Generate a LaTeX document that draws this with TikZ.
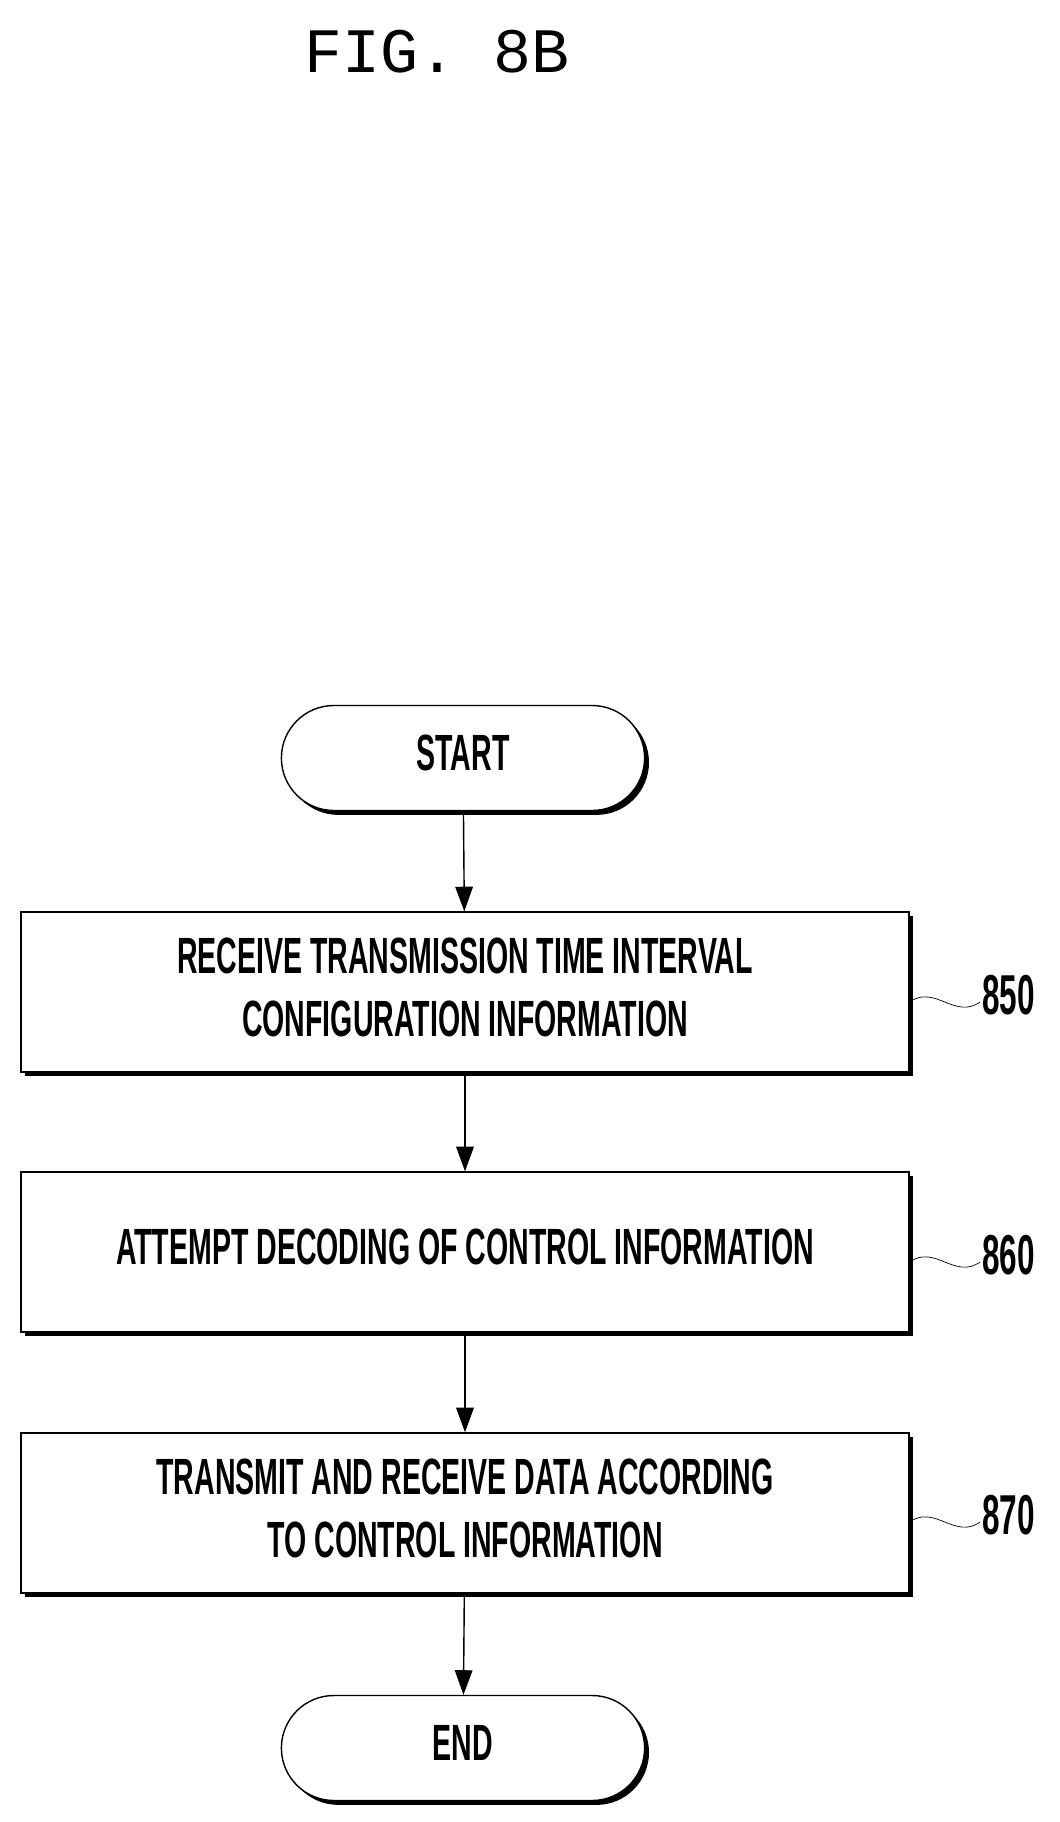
\documentclass[tikz,border=0pt]{standalone}
\usepackage{fontspec}
\setmainfont{Liberation Sans}
\newfontfamily\figfont{Liberation Mono}
\usetikzlibrary{positioning,shadows,arrows.meta,shapes.misc}
\newcommand{\narrowtext}[1]{\scalebox{0.56}[1]{\begin{tabular}{@{}c@{}}#1\end{tabular}}}
\begin{document}
\begin{tikzpicture}[x=0.02cm, y=-0.02cm,
        shade/.style={drop shadow={opacity=1, fill=black, shadow xshift=2.5pt, shadow yshift=-2.5pt}},
        stepbox/.style={rectangle, draw, thick, fill=white, shade, minimum width=17.76cm, minimum height=3.2cm, font=\fontsize{29}{36}\selectfont\bfseries},
        term/.style={rounded rectangle, draw, thick, fill=white, shade, minimum width=7.5cm, minimum height=2.1cm, font=\fontsize{29}{36}\selectfont\bfseries},
        flow/.style={-{Triangle[length=14pt, width=10pt]}, thick},
        tag/.style={font=\fontsize{32}{36}\selectfont\bfseries},
    ]
    \useasboundingbox (0,0) rectangle (1060,1822);
    \node[font=\figfont\fontsize{36}{40}\selectfont] (title) at (437,52) {FIG. 8B};

    % flowchart
    \node[term] (start) at (463,758) {\narrowtext{START}};
    \node[stepbox] (s850) at (465,992) {\narrowtext{RECEIVE TRANSMISSION TIME INTERVAL\\CONFIGURATION INFORMATION}};
    \node[stepbox] (s860) at (465,1252) {\narrowtext{ATTEMPT DECODING OF CONTROL INFORMATION}};
    \node[stepbox] (s870) at (465,1513) {\narrowtext{TRANSMIT AND RECEIVE DATA ACCORDING\\TO CONTROL INFORMATION}};
    \node[term] (end) at (463,1748) {\narrowtext{END}};

    \draw[flow] (start) -- (s850);
    \draw[flow] (s850) -- (s860);
    \draw[flow] (s860) -- (s870);
    \draw[flow] (s870) -- (end);

    % reference numerals
    \node[tag, anchor=west, inner sep=1pt] (n850) at (980,1002) {\narrowtext{850}};
    \node[tag, anchor=west, inner sep=1pt] (n860) at (980,1262) {\narrowtext{860}};
    \node[tag, anchor=west, inner sep=1pt] (n870) at (980,1522) {\narrowtext{870}};
    \draw (s850.east |- n850) .. controls +(25,-18) and +(-25,18) .. (n850.west);
    \draw (s860.east |- n860) .. controls +(25,-18) and +(-25,18) .. (n860.west);
    \draw (s870.east |- n870) .. controls +(25,-18) and +(-25,18) .. (n870.west);
\end{tikzpicture}
\end{document}
